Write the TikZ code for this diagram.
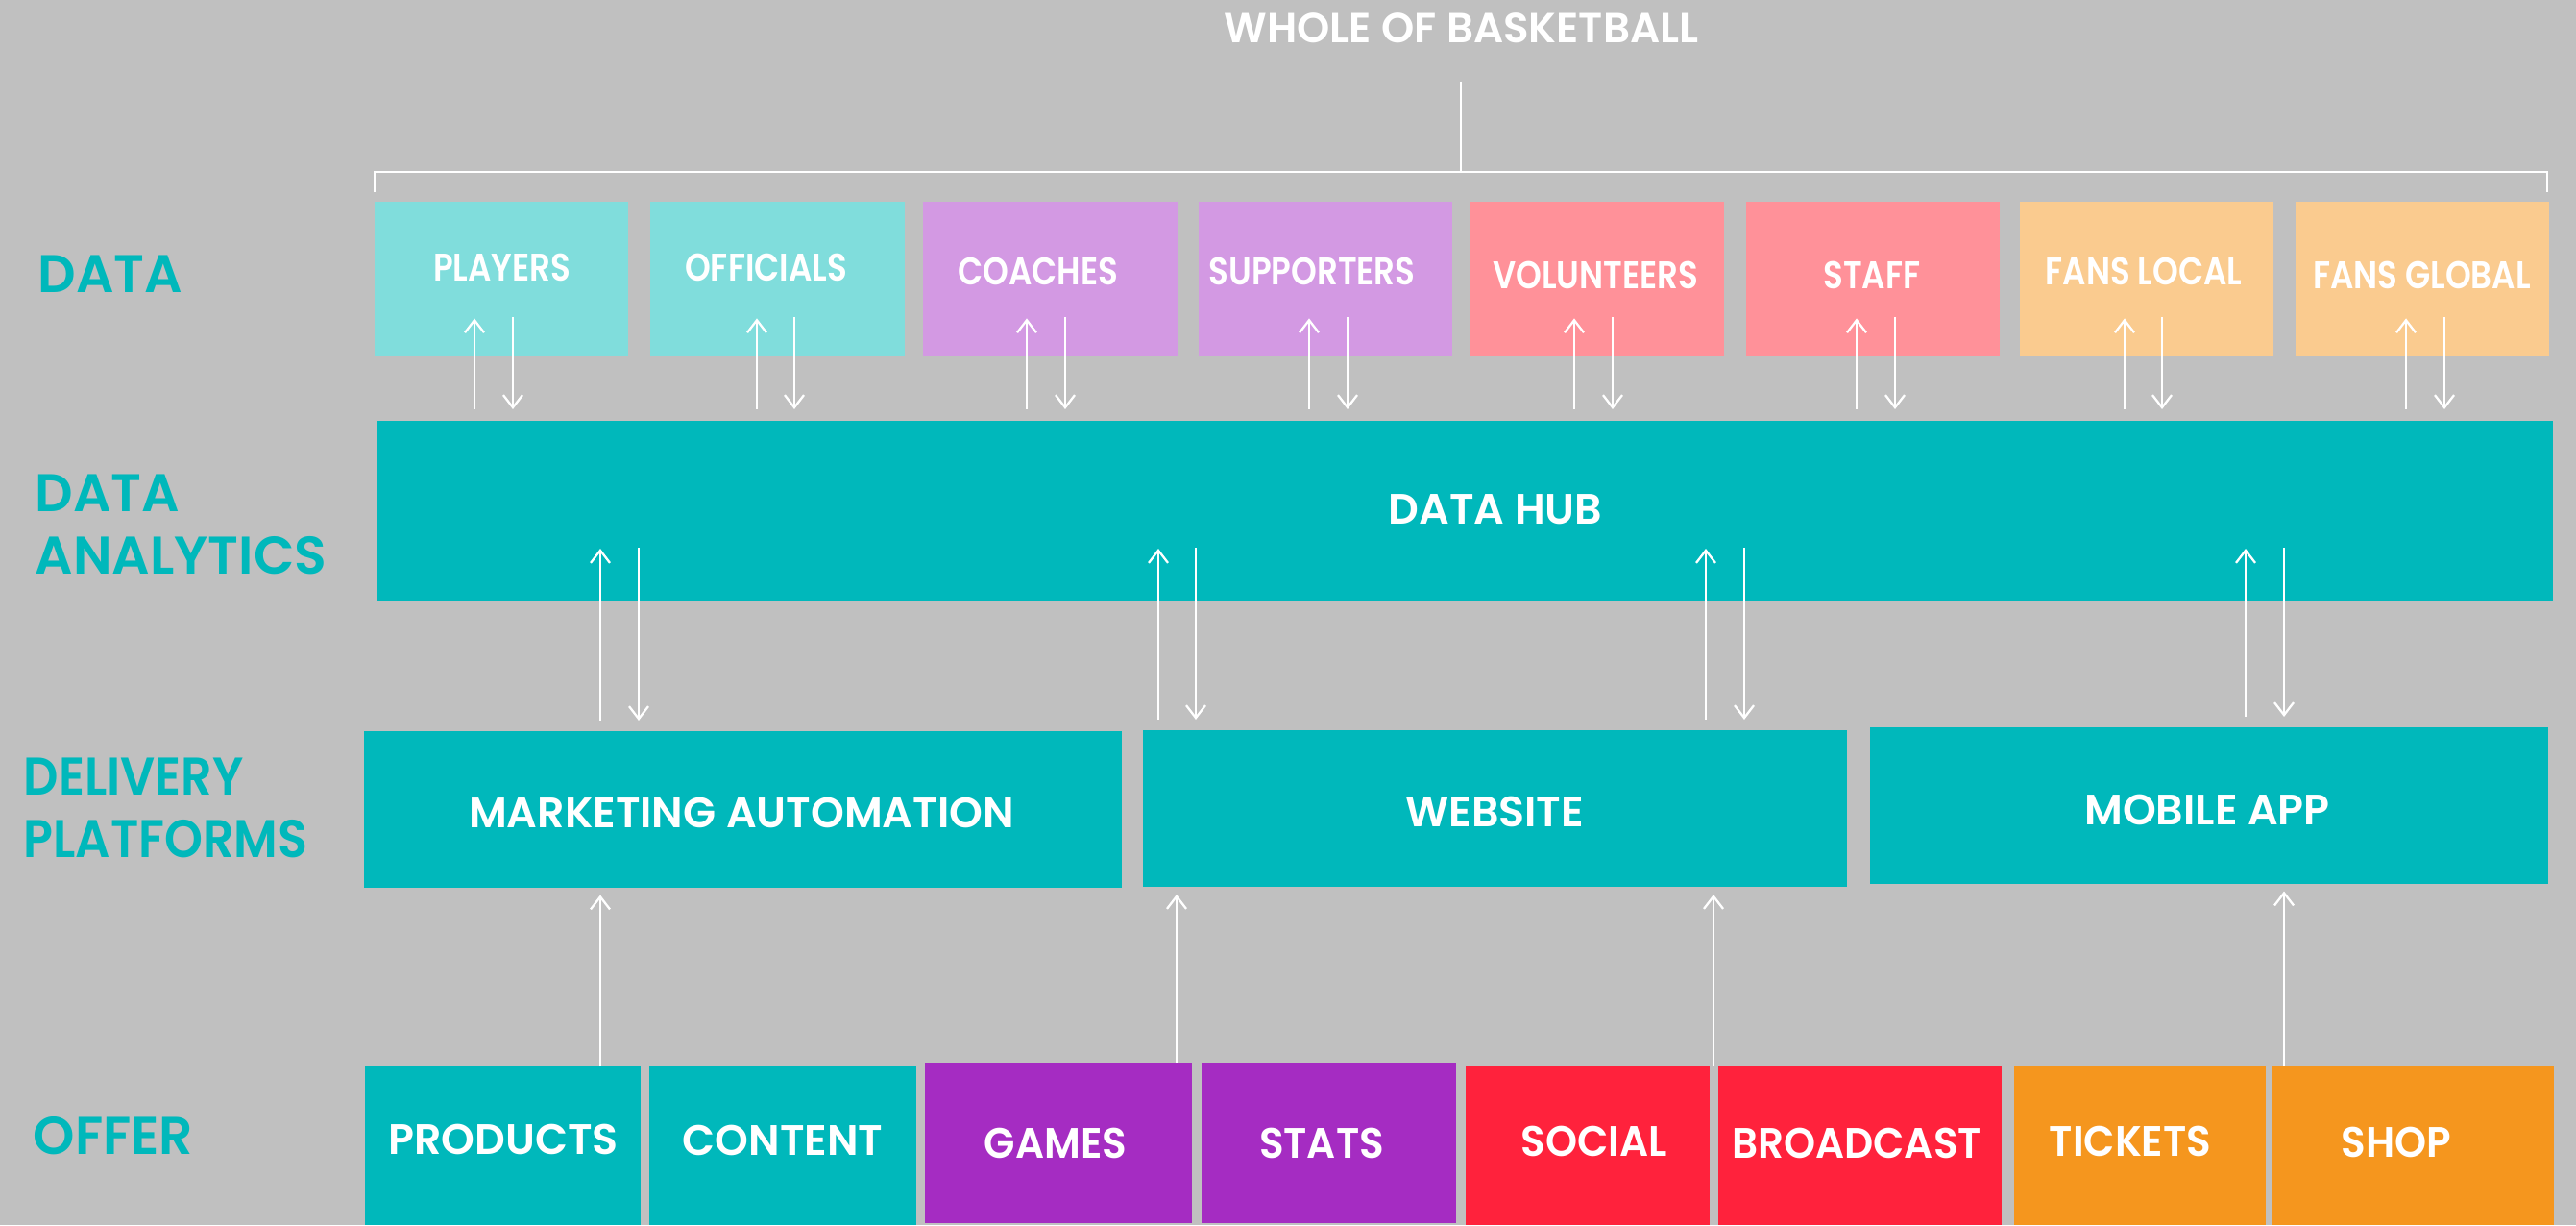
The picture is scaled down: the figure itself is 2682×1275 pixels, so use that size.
\documentclass[tikz,border=0pt]{standalone}
\usepackage{fontspec}
\setmainfont{Poppins}[UprightFont=* SemiBold]
\newfontfamily\narrowfont{Poppins}[UprightFont=* SemiBold, FakeStretch=0.85]
\newfontfamily\semifont{Poppins}[UprightFont=* SemiBold, FakeStretch=0.92]
\newfontfamily\slimfont{Poppins}[UprightFont=* SemiBold, FakeStretch=0.95]
\usetikzlibrary{arrows.meta}

\definecolor{bggray}{HTML}{C0C0C0}
\definecolor{teal}{HTML}{00B8BB}
\definecolor{lteal}{HTML}{80DDDC}
\definecolor{lpurple}{HTML}{D399E3}
\definecolor{lpink}{HTML}{FF9199}
\definecolor{lorange}{HTML}{FACB8F}
\definecolor{dpurple}{HTML}{A52CC2}
\definecolor{dred}{HTML}{FF223C}
\definecolor{dorange}{HTML}{F5961E}

\newcommand\fs[1]{\fontsize{#1}{#1}\selectfont}
% block: name, x1, y1, x2, y2, colour
\newcommand\blk[6]{\node[blk, fill=#6, minimum width={(#4-#2)*0.01cm},
  minimum height={(#5-#3)*0.01cm}] (#1) at ({(#2+#4)/2},{(#3+#5)/2}) {};}

\begin{document}
\begin{tikzpicture}[x=0.01cm, y=-0.01cm,
  blk/.style={rectangle, draw=none, inner sep=0pt, outer sep=0pt},
  rowlabel/.style={anchor=base west, inner sep=0pt, text=teal, font=\fs{15.7}},
  title/.style={anchor=base, inner sep=0pt, text=white, font=\fs{12.4}},
  datatxt/.style={anchor=base, inner sep=0pt, text=white, font=\narrowfont\fs{11.4}},
  boxtxt/.style={anchor=base, inner sep=0pt, text=white, font=\fs{12.6}},
  arr/.style={draw=white, line width=0.65pt, -{Straight Barb[length=3.7pt,width=5.7pt]}},
  brk/.style={draw=white, line width=0.6pt}]

\fill[bggray] (0,0) rectangle (2682,1275);
\useasboundingbox (0,0) rectangle (2682,1275);

% title and bracket
\node[title] (whole) at (1521.5,44) {WHOLE OF BASKETBALL};
\coordinate (brtop) at (1520.6,84.5);
\coordinate (brmid) at (1520.6,178.8);
\coordinate (brl) at (390,178.8);
\coordinate (brr) at (2652,178.8);
\coordinate (brlend) at (390,200);
\coordinate (brrend) at (2652,200);
\draw[brk] (brtop) -- (brmid);
\draw[brk] (brlend) -- (brl) -- (brr) -- (brrend);

% row labels
\node[rowlabel] (lbldata) at (39,304) {DATA};
\node[rowlabel] (lblanal1) at (36,532.7) {DATA};
\node[rowlabel] (lblanal2) at (36,597) {ANALYTICS};
\node[rowlabel, font=\semifont\fs{15.7}] (lbldeliv1) at (24,827.5) {DELIVERY};
\node[rowlabel, font=\semifont\fs{15.7}] (lbldeliv2) at (24,892) {PLATFORMS};
\node[rowlabel] (lbloffer) at (34,1201) {OFFER};

% data row
\blk{players}{390}{210}{654}{371.4}{lteal}
\blk{officials}{677}{210}{942}{371.4}{lteal}
\blk{coaches}{961}{210}{1226}{371.4}{lpurple}
\blk{supporters}{1248}{210}{1512}{371.4}{lpurple}
\blk{volunteers}{1531}{210}{1795}{371.4}{lpink}
\blk{staff}{1818}{210}{2082}{371.4}{lpink}
\blk{fanslocal}{2103}{210}{2367}{371.4}{lorange}
\blk{fansglobal}{2390}{210}{2654}{371.4}{lorange}

\node[datatxt] (players-t) at (522.6,292) {PLAYERS};
\node[datatxt] (officials-t) at (797.6,292) {OFFICIALS};
\node[datatxt] (coaches-t) at (1080.7,296) {COACHES};
\node[datatxt] (supporters-t) at (1366,296) {SUPPORTERS};
\node[datatxt] (volunteers-t) at (1661,300) {VOLUNTEERS};
\node[datatxt] (staff-t) at (1949,300) {STAFF};
\node[datatxt] (fanslocal-t) at (2232,296) {FANS LOCAL};
\node[datatxt] (fansglobal-t) at (2521.5,300) {FANS GLOBAL};

% hub
\blk{hub}{393}{438}{2658}{624.5}{teal}
\node[boxtxt] (hub-t) at (1557,545) {DATA HUB};

% delivery platforms
\blk{marketing}{379}{761}{1168}{923.5}{teal}
\blk{website}{1190}{760}{1923}{923}{teal}
\blk{mobile}{1947}{757}{2653}{919.5}{teal}
\node[boxtxt] (marketing-t) at (772,861) {MARKETING AUTOMATION};
\node[boxtxt] (website-t) at (1556,860.7) {WEBSITE};
\node[boxtxt] (mobile-t) at (2298,858.7) {MOBILE APP};

% offer row
\blk{products}{380}{1109}{667}{1275}{teal}
\blk{content}{676}{1109}{954}{1275}{teal}
\blk{games}{963}{1106}{1241}{1273}{dpurple}
\blk{stats}{1251}{1106}{1516}{1273}{dpurple}
\blk{social}{1526}{1109}{1780}{1275}{dred}
\blk{broadcast}{1789}{1109}{2084}{1275}{dred}
\blk{tickets}{2097}{1109}{2359}{1275}{dorange}
\blk{shop}{2365}{1109}{2659}{1275}{dorange}
\node[boxtxt] (products-t) at (524,1201.7) {PRODUCTS};
\node[boxtxt] (content-t) at (815,1202) {CONTENT};
\node[boxtxt, font=\slimfont\fs{12.6}] (games-t) at (1099,1205) {GAMES};
\node[boxtxt, font=\slimfont\fs{12.6}] (stats-t) at (1376,1205) {STATS};
\node[boxtxt, font=\slimfont\fs{12.6}] (social-t) at (1660,1203) {SOCIAL};
\node[boxtxt, font=\slimfont\fs{12.6}] (broadcast-t) at (1933,1205) {BROADCAST};
\node[boxtxt, font=\slimfont\fs{12.6}] (tickets-t) at (2218,1203) {TICKETS};
\node[boxtxt, font=\slimfont\fs{12.6}] (shop-t) at (2495,1204) {SHOP};

% data <-> hub
\foreach \b/\u/\d in {players/494/534, officials/788/827, coaches/1069/1109,
    supporters/1363/1403, volunteers/1639/1679, staff/1933/1973,
    fanslocal/2212/2251, fansglobal/2505/2545} {
  \coordinate (\b-up) at (\u,0);
  \coordinate (\b-dn) at (\d,0);
  \draw[arr, shorten <=0.12cm, shorten >=-0.40cm] (hub.north -| \b-up) -- (\b.south -| \b-up);
  \draw[arr, shorten <=-0.41cm, shorten >=0.12cm] (\b.south -| \b-dn) -- (hub.north -| \b-dn);
}

% hub <-> platforms
\foreach \p/\u/\d/\k in {marketing/625/665/a, website/1206/1245/b,
    website/1776/1816/c, mobile/2338/2378/d} {
  \coordinate (hp\k-up) at (\u,0);
  \coordinate (hp\k-dn) at (\d,0);
  \draw[arr, shorten <=0.11cm, shorten >=-0.535cm] (\p.north -| hp\k-up) -- (hub.south -| hp\k-up);
  \draw[arr, shorten <=-0.545cm, shorten >=0.11cm] (hub.south -| hp\k-dn) -- (\p.north -| hp\k-dn);
}

% offer -> platforms
\foreach \o/\p/\x in {products/marketing/625, games/website/1225,
    social/website/1784, shop/mobile/2378} {
  \coordinate (\o-feed) at (\x,0);
  \draw[arr, shorten >=0.08cm] (\o.north -| \o-feed) -- (\p.south -| \o-feed);
}
\end{tikzpicture}
\end{document}
